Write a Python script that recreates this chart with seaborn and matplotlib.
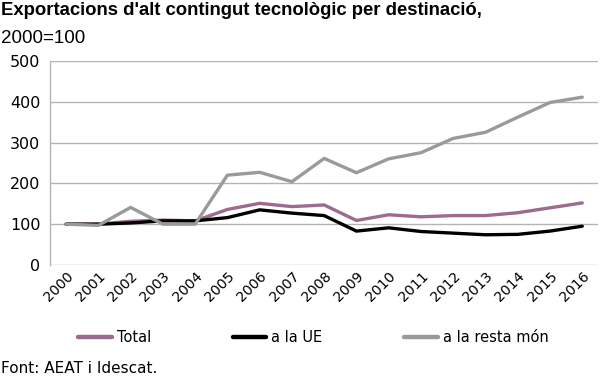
import matplotlib.pyplot as plt
import pandas as pd
import seaborn as sns

# Data (2000 = 100)
years = [str(y) for y in range(2000, 2017)]
total = [100, 100, 107, 110, 108, 136, 151, 143, 147, 109, 123, 118, 121, 121, 128, 140, 152]
ue = [100, 100, 103, 108, 108, 116, 135, 127, 121, 83, 91, 82, 78, 74, 75, 83, 95]
resta_mon = [100, 97, 141, 100, 100, 220, 227, 204, 261, 226, 260, 275, 310, 325, 362, 398, 411]
series_names = ['Total', 'a la UE', 'a la resta món']
colors = ['#9c6b8d', '#000000', '#9a9a9a']

df = pd.DataFrame({'year': years * 3,
                   'value': total + ue + resta_mon,
                   'serie': [s for s in series_names for _ in years]})

sns.set_style('white')
plt.rcParams['font.family'] = ['DejaVu Sans']
plt.rcParams['text.color'] = 'black'
plt.rcParams['xtick.labelcolor'] = 'black'
plt.rcParams['ytick.labelcolor'] = 'black'

fig = plt.figure(figsize=(6, 3.78), dpi=100)
ax = fig.add_axes([0.0833, 0.299, 0.914, 0.540])

sns.lineplot(data=df, x='year', y='value', hue='serie', palette=colors,
             hue_order=series_names, linewidth=2.4, ax=ax, sort=False)

ax.set_xlim(-0.5, len(years) - 0.5)
ax.set_ylim(0, 500)
ax.set_yticks(range(0, 501, 100))
ax.yaxis.grid(True, color='#b4b4b4', linewidth=1)
ax.set_axisbelow(True)
for s in ['top', 'right', 'bottom']:
    ax.spines[s].set_visible(False)
ax.spines['left'].set_color('#b4b4b4')
ax.spines['left'].set_linewidth(1)
ax.tick_params(axis='y', length=4, color='#b4b4b4', labelsize=11.5, pad=3)
ax.tick_params(axis='x', length=0, labelsize=10.2, pad=3)
plt.setp(ax.get_xticklabels(), rotation=45, ha='right', rotation_mode='anchor')
ax.set_xlabel('')
ax.set_ylabel('')

handles, labels = ax.get_legend_handles_labels()
ax.get_legend().remove()
leg = fig.legend(handles, labels, loc='center left', bbox_to_anchor=(0.13, 0.108), ncol=3,
                 frameon=False, fontsize=10.5, handlelength=2.3, columnspacing=5.6,
                 handletextpad=0.35, borderpad=0, borderaxespad=0)
for line in leg.get_lines():
    line.set_linewidth(3.2)

fig.text(0.001, 0.995, "Exportacions d'alt contingut tecnològic per destinació,",
         fontsize=13.3, fontweight='bold', family=['Liberation Sans', 'DejaVu Sans'], va='top')
fig.text(0.001, 0.92, '2000=100', fontsize=13.5, family=['Liberation Sans', 'DejaVu Sans'],
         va='top')
fig.text(0.001, 0.005, 'Font: AEAT i Idescat.', fontsize=11, va='bottom')

fig.savefig('out.png', dpi=100)
